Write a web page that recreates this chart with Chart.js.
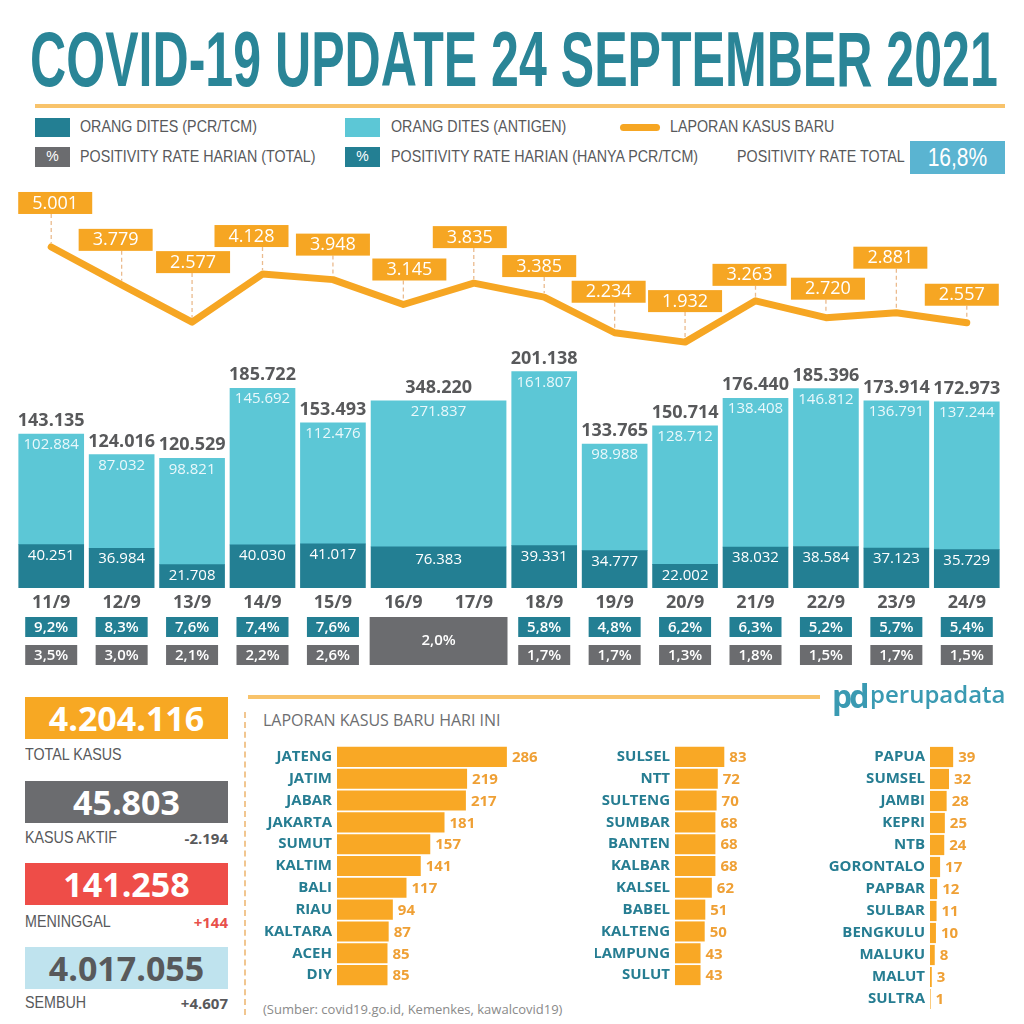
<!DOCTYPE html>
<html>
<head>
<meta charset="utf-8">
<script src="https://cdn.jsdelivr.net/npm/chart.js@4.4.1/dist/chart.umd.min.js"></script>
<style>
    body { margin: 0; width: 1024px; height: 1024px; background: #fff; position: relative; overflow: hidden; font-family: "Open Sans", sans-serif; }
    .abs { position: absolute; }
    #title { left: 30px; top: 21px; font-family: "Liberation Sans", sans-serif; font-weight: bold; font-size: 77px; line-height: 1; color: #2a8597; white-space: nowrap; transform-origin: 0 0; }
    .rule { background: #f8c36b; height: 4px; }
    .sw { width: 35px; height: 19px; color: #fff; font-family: "Liberation Sans", sans-serif; font-size: 14px; line-height: 19px; text-align: center; }
    .cond { transform: scaleX(0.84); transform-origin: 0 0; white-space: nowrap; }
    .lg { font-family: "Liberation Sans", sans-serif; font-size: 17px; line-height: 20px; color: #58595b; }
    .kbox { left: 25px; width: 203px; height: 42px; line-height: 42px; text-align: center; font-weight: 700; font-size: 34px; color: #fff; }
    .klab { left: 25px; font-family: "Liberation Sans", sans-serif; font-size: 17px; line-height: 20px; color: #58595b; }
    .kdelta { left: 25px; width: 203px; text-align: right; font-weight: 700; font-size: 15px; line-height: 20px; }
</style>
</head>
<body>
<div id="title" class="abs">COVID-19 UPDATE 24 SEPTEMBER 2021</div>
<div class="abs rule" style="left:35px;top:104px;width:970px"></div>

<div class="abs sw" style="left:35px;top:118px;background:#237f93"></div>
<div class="abs lg cond" style="left:80px;top:117px">ORANG DITES (PCR/TCM)</div>
<div class="abs sw" style="left:345px;top:118px;background:#5cc7d6"></div>
<div class="abs lg cond" style="left:391px;top:117px">ORANG DITES (ANTIGEN)</div>
<div class="abs" style="left:620px;top:124px;width:40px;height:7px;border-radius:4px;background:#f6a623"></div>
<div class="abs lg cond" style="left:670px;top:117px">LAPORAN KASUS BARU</div>

<div class="abs sw" style="left:35px;top:147px;height:20px;background:#6b6c6f">%</div>
<div class="abs lg cond" style="left:80px;top:147px">POSITIVITY RATE HARIAN (TOTAL)</div>
<div class="abs sw" style="left:345px;top:147px;height:20px;background:#237f93">%</div>
<div class="abs lg cond" style="left:391px;top:147px">POSITIVITY RATE HARIAN (HANYA PCR/TCM)</div>
<div class="abs lg cond" style="left:737px;top:147px">POSITIVITY RATE TOTAL</div>
<div class="abs" style="left:910px;top:141px;width:95px;height:33px;line-height:33px;background:#5ab4d1;color:#fff;text-align:center;font-family:'Liberation Sans',sans-serif;font-size:25px"><span style="display:inline-block;transform:scaleX(0.84)">16,8%</span></div>

<canvas id="trend" class="abs" width="1024" height="500" style="left:0;top:180px"></canvas>

<div class="abs kbox" style="top:697px;background:#f7a823">4.204.116</div>
<div class="abs klab cond" style="top:745px">TOTAL KASUS</div>
<div class="abs kbox" style="top:781px;background:#6b6c6f">45.803</div>
<div class="abs klab cond" style="top:828px">KASUS AKTIF</div>
<div class="abs kdelta" style="top:828px;color:#58595b">-2.194</div>
<div class="abs kbox" style="top:863px;background:#ee4d48">141.258</div>
<div class="abs klab cond" style="top:912px">MENINGGAL</div>
<div class="abs kdelta" style="top:912px;color:#e8504a">+144</div>
<div class="abs kbox" style="top:947px;background:#bfe3ee;color:#58595b">4.017.055</div>
<div class="abs klab cond" style="top:993px">SEMBUH</div>
<div class="abs kdelta" style="top:993px;color:#58595b">+4.607</div>

<div class="abs rule" style="left:248px;top:695px;width:572px"></div>
<div class="abs" style="left:244px;top:712px;height:303px;border-left:2px dashed #f1c690"></div>
<div class="abs" style="left:832px;top:678px;font-weight:700;font-size:32px;line-height:36px;color:#3a9ab2;letter-spacing:-3px">pd</div>
<div class="abs" style="left:870px;top:679px;font-weight:600;font-size:24px;line-height:30px;color:#3a9ab2">perupadata</div>

<div class="abs" style="left:263px;top:710px;font-size:16px;line-height:20px;color:#6d6e71">LAPORAN KASUS BARU HARI INI</div>
<canvas id="prov1" class="abs" width="300" height="256" style="left:252px;top:740px"></canvas>
<canvas id="prov2" class="abs" width="185" height="256" style="left:595px;top:740px"></canvas>
<canvas id="prov3" class="abs" width="185" height="280" style="left:820px;top:740px"></canvas>
<div class="abs" style="left:263px;top:1000px;font-size:13px;line-height:18px;color:#8a8a8a">(Sumber: covid19.go.id, Kemenkes, kawalcovid19)</div>

<script>
// laporan kasus baru per hari
const dates = ['11/9', '12/9', '13/9', '14/9', '15/9', '16/9', '17/9', '18/9', '19/9', '20/9', '21/9', '22/9', '23/9', '24/9'];
const newCases = [5001, 3779, 2577, 4128, 3948, 3145, 3835, 3385, 2234, 1932, 3263, 2720, 2881, 2557];

// orang dites, 16/9 dan 17/9 digabung jadi satu batang
const barDays = [1, 1, 1, 1, 1, 2, 1, 1, 1, 1, 1, 1, 1];
const pcrTests = [40251, 36984, 21708, 40030, 41017, 76383, 39331, 34777, 22002, 38032, 38584, 37123, 35729];
const antigenTests = [102884, 87032, 98821, 145692, 112476, 271837, 161807, 98988, 128712, 138408, 146812, 136791, 137244];
const pcrRate = [9.2, 8.3, 7.6, 7.4, 7.6, null, 5.8, 4.8, 6.2, 6.3, 5.2, 5.7, 5.4];
const totalRate = [3.5, 3.0, 2.1, 2.2, 2.6, 2.0, 1.7, 1.7, 1.3, 1.8, 1.5, 1.7, 1.5];

// kasus baru per provinsi
const prov1 = ['JATENG', 'JATIM', 'JABAR', 'JAKARTA', 'SUMUT', 'KALTIM', 'BALI', 'RIAU', 'KALTARA', 'ACEH', 'DIY'];
const cases1 = [286, 219, 217, 181, 157, 141, 117, 94, 87, 85, 85];
const prov2 = ['SULSEL', 'NTT', 'SULTENG', 'SUMBAR', 'BANTEN', 'KALBAR', 'KALSEL', 'BABEL', 'KALTENG', 'LAMPUNG', 'SULUT'];
const cases2 = [83, 72, 70, 68, 68, 68, 62, 51, 50, 43, 43];
const prov3 = ['PAPUA', 'SUMSEL', 'JAMBI', 'KEPRI', 'NTB', 'GORONTALO', 'PAPBAR', 'SULBAR', 'BENGKULU', 'MALUKU', 'MALUT', 'SULTRA'];
const cases3 = [39, 32, 28, 25, 24, 17, 12, 11, 10, 8, 3, 1];

// label offsets for the new-case boxes (px above / beside each point)
const labelLift = [33, 34, 49, 27, 24, 24, 35, 20, 30, 30, 15, 18, 44, 17];
const labelShift = [4, -6, 1, -11, 0, 6, -4, -5, -6, 0, -6, 2, -6, -5];

const PCR = '#237f93', ANTIGEN = '#5cc7d6', ORANGE = '#f6a623', GREY = '#6b6c6f', TEXT = '#58595b';
Chart.defaults.font.family = '"Open Sans", sans-serif';

const title = document.getElementById('title');
title.style.transform = 'scaleX(' + (968 / title.scrollWidth) + ')';

function fmt(n) {
    return String(n).replace(/\B(?=(\d{3})+(?!\d))/g, '.');
}
function pct(v) {
    return v.toFixed(1).replace('.', ',') + '%';
}

// x position of each bar on the day axis
const barX = [];
let dayIdx = 0;
barDays.forEach(function(n) {
    barX.push(dayIdx + (n - 1) / 2);
    dayIdx += n;
});

function barPoints(values, merged) {
    const pts = [];
    values.forEach(function(v, i) {
        if ((barDays[i] > 1) === merged) pts.push({x: barX[i], y: v / barDays[i]});
    });
    return pts;
}

const trendLabels = {
    id: 'trendLabels',
    afterDatasetsDraw(chart) {
        const {ctx, chartArea, scales: {x, y}} = chart;
        ctx.save();
        ctx.textAlign = 'center';
        ctx.textBaseline = 'middle';

        pcrTests.forEach(function(pcr, i) {
            const n = barDays[i];
            const cx = x.getPixelForValue(barX[i]);
            const top = y.getPixelForValue((pcr + antigenTests[i]) / n);
            const mid = y.getPixelForValue(pcr / n);

            ctx.fillStyle = TEXT;
            ctx.font = 'bold 18px "Open Sans"';
            ctx.fillText(fmt(pcr + antigenTests[i]), cx, top - 13);
            ctx.font = '15px "Open Sans"';
            ctx.fillStyle = '#eaf8fb';
            ctx.fillText(fmt(antigenTests[i]), cx, top + 11);
            ctx.fillStyle = '#ffffff';
            ctx.fillText(fmt(pcr), cx, mid + (n > 1 ? 13 : 11));

            // kotak positivity rate
            const rowA = chartArea.bottom + 29, rowB = chartArea.bottom + 57;
            ctx.font = '600 15px "Open Sans"';
            if (n > 1) {
                const w = n * (x.getPixelForValue(1) - x.getPixelForValue(0)) - 3;
                ctx.fillStyle = GREY;
                ctx.fillRect(cx - w / 2, rowA, w, 48);
                ctx.fillStyle = '#fff';
                ctx.fillText(pct(totalRate[i]), cx, rowA + 24);
            } else {
                ctx.fillStyle = PCR;
                ctx.fillRect(cx - 26, rowA, 52, 20);
                ctx.fillStyle = GREY;
                ctx.fillRect(cx - 26, rowB, 52, 20);
                ctx.fillStyle = '#fff';
                ctx.fillText(pct(pcrRate[i]), cx, rowA + 10.5);
                ctx.fillText(pct(totalRate[i]), cx, rowB + 10.5);
            }
        });

        // kotak kasus baru
        const meta = chart.getDatasetMeta(4);
        meta.data.forEach(function(pt, i) {
            const bx = pt.x + labelShift[i], by = pt.y - labelLift[i];
            ctx.setLineDash([4, 3]);
            ctx.strokeStyle = '#ebbb8e';
            ctx.lineWidth = 1.3;
            ctx.beginPath();
            ctx.moveTo(pt.x, by);
            ctx.lineTo(pt.x, pt.y - 4);
            ctx.stroke();
            ctx.setLineDash([]);
            ctx.fillStyle = ORANGE;
            ctx.fillRect(bx - 37, by - 22, 74, 22);
            ctx.fillStyle = '#fff';
            ctx.font = '18px "Open Sans"';
            ctx.fillText(fmt(newCases[i]), bx, by - 10.5);
        });
        ctx.restore();
    }
};

new Chart(document.getElementById('trend'), {
    type: 'bar',
    data: {
        datasets: [
            {data: barPoints(pcrTests, false), backgroundColor: PCR, barThickness: 65, stack: 's'},
            {data: barPoints(pcrTests, true), backgroundColor: PCR, barThickness: 135, stack: 's'},
            {data: barPoints(antigenTests, false), backgroundColor: ANTIGEN, barThickness: 65, stack: 's'},
            {data: barPoints(antigenTests, true), backgroundColor: ANTIGEN, barThickness: 135, stack: 's'},
            {
                type: 'line',
                data: newCases.map(function(v, i) { return {x: i, y: v}; }),
                yAxisID: 'y1',
                borderColor: ORANGE,
                borderWidth: 7,
                pointRadius: 0,
                borderJoinStyle: 'round',
                borderCapStyle: 'round',
                tension: 0
            }
        ]
    },
    options: {
        responsive: false,
        animation: false,
        layout: {padding: {left: 16, right: 22, top: 10, bottom: 0}},
        plugins: {legend: {display: false}, tooltip: {enabled: false}},
        scales: {
            x: {
                type: 'linear',
                min: -0.5,
                max: 13.5,
                offset: false,
                grid: {display: false, drawTicks: false},
                border: {display: false},
                afterBuildTicks: function(s) { s.ticks = dates.map(function(d, i) { return {value: i}; }); },
                afterFit: function(s) { s.height = 92; s.paddingLeft = 0; s.paddingRight = 0; },
                ticks: {
                    autoSkip: false,
                    maxRotation: 0,
                    padding: 4,
                    color: TEXT,
                    font: {size: 18, weight: 'bold'},
                    callback: function(v) { return dates[v]; }
                }
            },
            y: {display: false, stacked: true, min: 0, max: 370000},
            y1: {display: false, min: -6000, max: 6839}
        }
    },
    plugins: [trendLabels]
});

const valueLabels = {
    id: 'valueLabels',
    afterDatasetsDraw(chart) {
        const ctx = chart.ctx;
        const values = chart.data.datasets[0].data;
        ctx.save();
        ctx.fillStyle = '#efa035';
        ctx.font = 'bold 15px "Open Sans"';
        ctx.textAlign = 'left';
        ctx.textBaseline = 'middle';
        chart.getDatasetMeta(0).data.forEach(function(bar, i) {
            ctx.fillText(values[i], bar.x + 5, bar.y + 1);
        });
        ctx.restore();
    }
};

// 0.594 px per kasus di ketiga kolom
function provChart(id, labels, values, axisWidth, areaWidth) {
    new Chart(document.getElementById(id), {
        type: 'bar',
        data: {
            labels: labels,
            datasets: [{data: values, backgroundColor: '#f9a825', barPercentage: 0.92, categoryPercentage: 1}]
        },
        options: {
            indexAxis: 'y',
            responsive: false,
            animation: false,
            layout: {padding: {top: 6, bottom: 10, right: 5}},
            plugins: {legend: {display: false}, tooltip: {enabled: false}},
            scales: {
                x: {display: false, min: 0, max: areaWidth / 0.594},
                y: {
                    grid: {display: false, drawTicks: false},
                    border: {display: false},
                    afterFit: function(s) { s.width = axisWidth; s.paddingTop = 0; s.paddingBottom = 0; },
                    ticks: {autoSkip: false, padding: 5, color: '#267d92', font: {size: 15, weight: 'bold'}}
                }
            }
        },
        plugins: [valueLabels]
    });
}

provChart('prov1', prov1, cases1, 85, 210);
provChart('prov2', prov2, cases2, 80, 100);
provChart('prov3', prov3, cases3, 110, 70);
</script>
</body>
</html>
